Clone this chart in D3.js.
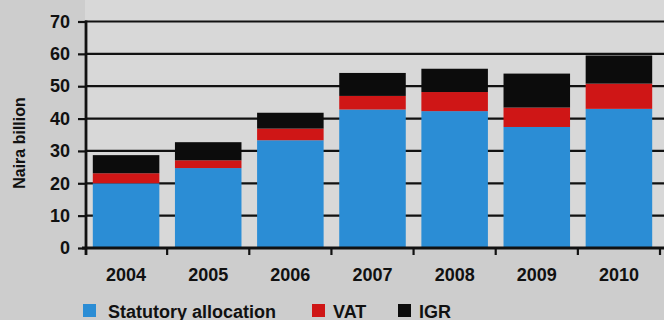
<!DOCTYPE html>
<html>
<head>
<meta charset="utf-8">
<script src="https://cdn.jsdelivr.net/npm/d3@7/dist/d3.min.js"></script>
<style>
  html, body { margin: 0; padding: 0; background: #cdcdcd; }
  svg { display: block; }
  text { font-family: "Liberation Sans", Arial, sans-serif; font-weight: bold; fill: #111; }
</style>
</head>
<body>
<svg id="chart" width="664" height="320"></svg>
<script>
// Federal revenue sources by year (Naira billion)
const years = ["2004", "2005", "2006", "2007", "2008", "2009", "2010"];
const statutory = [20.0, 24.7, 33.3, 42.8, 42.3, 37.4, 43.0];
const vat = [3.1, 2.4, 3.6, 4.2, 5.9, 6.0, 7.8];
const igr = [5.6, 5.6, 4.9, 7.1, 7.2, 10.5, 8.7];
const yTicks = [0, 10, 20, 30, 40, 50, 60, 70];
const seriesNames = ["Statutory allocation", "VAT", "IGR"];
const seriesColors = ["#2b8dd5", "#cf1616", "#0c0c0c"];

const rows = years.map((yr, i) => ({
  year: yr,
  "Statutory allocation": statutory[i],
  "VAT": vat[i],
  "IGR": igr[i]
}));

const svg = d3.select("#chart");
const plotLeft = 85, plotRight = 660, plotTop = 21.5, plotBottom = 248;

const x = d3.scaleBand().domain(years).range([plotLeft, plotRight])
  .paddingInner(0.19).paddingOuter(0.095);
const y = d3.scaleLinear().domain([0, 70]).range([plotBottom, plotTop]);

// plot background
svg.append("rect")
  .attr("x", plotLeft).attr("y", 0)
  .attr("width", 664 - plotLeft).attr("height", plotBottom)
  .attr("fill", "#d8d8d8");

// horizontal gridlines
svg.append("g")
  .selectAll("line")
  .data(yTicks.filter(d => d > 0))
  .join("line")
  .attr("x1", plotLeft).attr("x2", 664)
  .attr("y1", d => y(d)).attr("y2", d => y(d))
  .attr("stroke", "#111").attr("stroke-width", 2.2);

// stacked bars
const stack = d3.stack().keys(seriesNames)(rows);
const color = d3.scaleOrdinal().domain(seriesNames).range(seriesColors);

svg.append("g")
  .selectAll("g")
  .data(stack)
  .join("g")
  .attr("fill", d => color(d.key))
  .selectAll("rect")
  .data(d => d)
  .join("rect")
  .attr("x", d => x(d.data.year))
  .attr("width", x.bandwidth())
  .attr("y", d => y(d[1]))
  .attr("height", d => y(d[0]) - y(d[1]));

// y axis
const yAxis = svg.append("g")
  .attr("transform", `translate(${plotLeft + 1},0)`)
  .call(d3.axisLeft(y).tickValues(yTicks).tickSize(8).tickPadding(8));
yAxis.select(".domain").attr("stroke", "#111").attr("stroke-width", 2.8)
  .attr("d", `M0,${plotTop - 1}V${plotBottom + 7}`);
yAxis.selectAll(".tick line").attr("stroke", "#111").attr("stroke-width", 2.2);
yAxis.selectAll(".tick text").style("font-size", "18px").attr("fill", "#111");

// x axis: labels under each band, tick marks at band boundaries
const xAxis = svg.append("g")
  .attr("transform", `translate(0,${plotBottom})`)
  .call(d3.axisBottom(x).tickSize(0).tickPadding(20));
xAxis.select(".domain").attr("stroke", "#111").attr("stroke-width", 2.8)
  .attr("d", `M${plotLeft - 3},0H664`);
xAxis.selectAll(".tick text").style("font-size", "18px").attr("fill", "#111");

const half = x.step() * x.paddingInner() / 2;
const bounds = years.map(d => x(d) - half)
  .concat([x(years[years.length - 1]) + x.bandwidth() + half]);
xAxis.append("g")
  .selectAll("line")
  .data(bounds.slice(1))
  .join("line")
  .attr("x1", d => d).attr("x2", d => d)
  .attr("y1", 0).attr("y2", 7)
  .attr("stroke", "#111").attr("stroke-width", 2.2);

// y axis title
svg.append("text")
  .attr("transform", "translate(25,143) rotate(-90)")
  .attr("text-anchor", "middle")
  .style("font-size", "16px")
  .text("Naira billion");

// legend
const legendX = [83, 312, 398];
const legend = svg.append("g")
  .selectAll("g")
  .data(seriesNames)
  .join("g")
  .attr("transform", (d, i) => `translate(${legendX[i]},304)`);
legend.append("rect")
  .attr("width", 13).attr("height", 13)
  .attr("fill", d => color(d));
legend.append("text")
  .attr("x", (d, i) => i === 0 ? 25 : 21)
  .attr("y", 14)
  .style("font-size", "18px")
  .text(d => d);
</script>
</body>
</html>
